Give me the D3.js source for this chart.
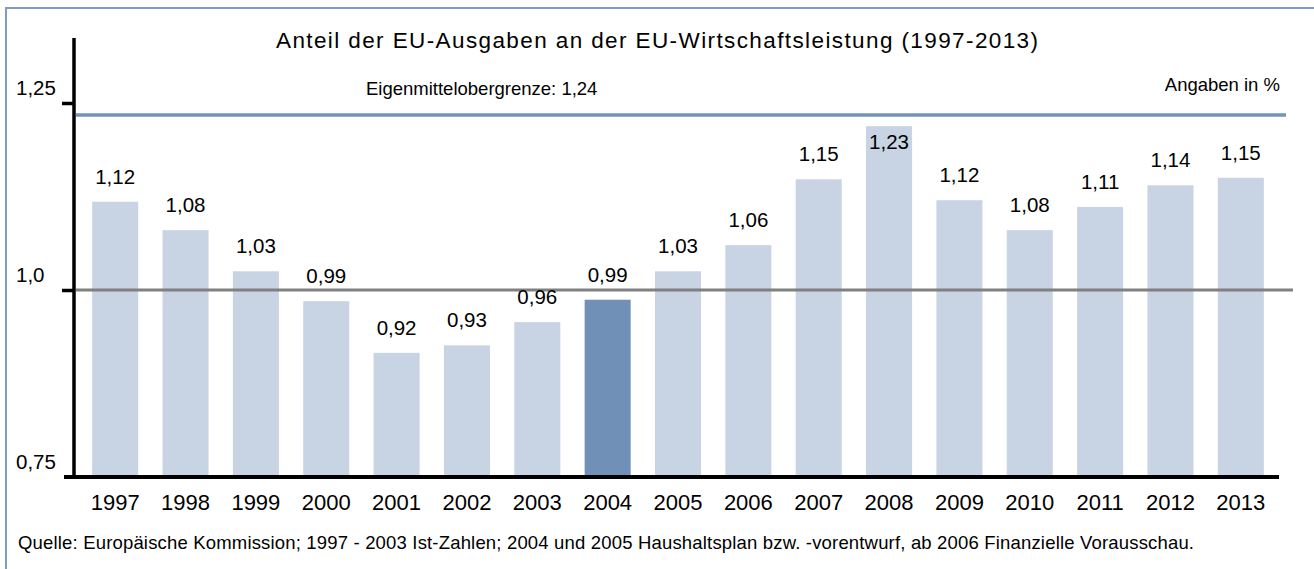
<!DOCTYPE html>
<html>
<head>
<meta charset="utf-8">
<script src="https://cdn.jsdelivr.net/npm/d3@7"></script>
<style>
  body { margin: 0; background: #fff; }
  svg { display: block; font-family: "Liberation Sans", Arial, sans-serif; }
</style>
</head>
<body>
<div id="chart"></div>
<script>
// Data
const years = ["1997", "1998", "1999", "2000", "2001", "2002", "2003", "2004", "2005",
  "2006", "2007", "2008", "2009", "2010", "2011", "2012", "2013"];
const shares = [1.118, 1.080, 1.025, 0.985, 0.916, 0.926, 0.957, 0.987, 1.025,
  1.060, 1.148, 1.219, 1.120, 1.080, 1.111, 1.140, 1.150];
const shareLabels = ["1,12", "1,08", "1,03", "0,99", "0,92", "0,93", "0,96", "0,99", "1,03",
  "1,06", "1,15", "1,23", "1,12", "1,08", "1,11", "1,14", "1,15"];
const highlightYear = "2004";
const yTicks = [0.75, 1.0, 1.25];
const yTickLabels = ["0,75", "1,0", "1,25"];
const ceilingValue = 1.234;
const ceilingLabel = "Eigenmittelobergrenze: 1,24";
const referenceValue = 1.0;

const titleText = "Anteil der EU-Ausgaben an der EU-Wirtschaftsleistung (1997-2013)";
const unitText = "Angaben in %";
const sourceText = "Quelle: Europäische Kommission; 1997 - 2003 Ist-Zahlen; 2004 und 2005 Haushaltsplan bzw. -vorentwurf, ab 2006 Finanzielle Vorausschau.";

const width = 1314;
const height = 569;
const plot = { left: 74, right: 1279, top: 103, bottom: 477 };

const svg = d3.select("#chart")
  .append("svg")
  .attr("width", width)
  .attr("height", height);

const x = d3.scaleBand()
  .domain(years)
  .range([80, 1276])
  .paddingInner(0.346)
  .paddingOuter(0.173);

const y = d3.scaleLinear()
  .domain([0.75, 1.25])
  .range([plot.bottom, plot.top]);

// frame (top and left edges are visible)
svg.append("line")
  .attr("x1", 5).attr("x2", width)
  .attr("y1", 8).attr("y2", 8)
  .attr("stroke", "#7f9cc4").attr("stroke-width", 2);
svg.append("line")
  .attr("x1", 6).attr("x2", 6)
  .attr("y1", 7).attr("y2", height)
  .attr("stroke", "#7f9cc4").attr("stroke-width", 2);

// title
svg.append("text")
  .attr("x", 276)
  .attr("y", 48)
  .attr("font-size", "22.5px")
  .attr("fill", "#000")
  .attr("textLength", 762)
  .attr("lengthAdjust", "spacing")
  .text(titleText);

svg.append("text")
  .attr("x", 1280)
  .attr("y", 91)
  .attr("text-anchor", "end")
  .attr("font-size", "18.5px")
  .text(unitText);

/* ---------- Bars ---------- */
const rows = years.map((yr, i) => ({ year: yr, value: shares[i], label: shareLabels[i] }));

svg.selectAll(".bar")
  .data(rows)
  .enter()
  .append("rect")
  .attr("class", "bar")
  .attr("x", (d) => x(d.year))
  .attr("width", x.bandwidth())
  .attr("y", (d) => y(d.value))
  .attr("height", (d) => y(0.75) - y(d.value))
  .attr("fill", (d) => (d.year === highlightYear ? "#7190b7" : "#c8d3e3"));

// reference line at 1,0
svg.append("line")
  .attr("x1", plot.left + 2)
  .attr("x2", 1293)
  .attr("y1", y(referenceValue))
  .attr("y2", y(referenceValue))
  .attr("stroke", "#808080")
  .attr("stroke-width", 3);

// ceiling line
svg.append("line")
  .attr("x1", plot.left + 2)
  .attr("x2", 1286)
  .attr("y1", y(ceilingValue))
  .attr("y2", y(ceilingValue))
  .attr("stroke", "#7393bb")
  .attr("stroke-width", 3.5);

svg.append("text")
  .attr("x", 366)
  .attr("y", y(ceilingValue) - 20)
  .attr("font-size", "18.5px")
  .text(ceilingLabel);

/* ---------- Value labels ---------- */
svg.selectAll(".value-label")
  .data(rows)
  .enter()
  .append("text")
  .attr("class", "value-label")
  .attr("x", (d) => x(d.year) + x.bandwidth() / 2)
  .attr("y", (d) => {
    const top = y(d.value);
    // labels that would run into the ceiling line go inside the bar
    return top - 40 < y(ceilingValue) ? top + 23 : top - 18;
  })
  .attr("text-anchor", "middle")
  .attr("font-size", "20.5px")
  .text((d) => d.label);

/* ---------- Axes ---------- */
const yAxis = svg.append("g")
  .attr("transform", `translate(${plot.left},0)`)
  .call(d3.axisLeft(y).tickValues(yTicks.slice(1)).tickSize(12).tickFormat(""));
yAxis.select(".domain").remove();
yAxis.selectAll(".tick line").attr("stroke", "#000").attr("stroke-width", 3.5);

svg.append("line")
  .attr("x1", plot.left).attr("x2", plot.left)
  .attr("y1", 38).attr("y2", plot.bottom + 2)
  .attr("stroke", "#000").attr("stroke-width", 3.5);

svg.append("line")
  .attr("x1", 64).attr("x2", plot.right)
  .attr("y1", plot.bottom).attr("y2", plot.bottom)
  .attr("stroke", "#000").attr("stroke-width", 4);

svg.selectAll(".y-label")
  .data(yTicks)
  .enter()
  .append("text")
  .attr("class", "y-label")
  .attr("x", 16)
  .attr("y", (d) => y(d) - 8)
  .attr("font-size", "20.5px")
  .text((d, i) => yTickLabels[i]);

svg.selectAll(".x-label")
  .data(years)
  .enter()
  .append("text")
  .attr("class", "x-label")
  .attr("x", (d) => x(d) + x.bandwidth() / 2)
  .attr("y", 510)
  .attr("text-anchor", "middle")
  .attr("font-size", "22px")
  .text((d) => d);

// source
svg.append("text")
  .attr("x", 18)
  .attr("y", 549)
  .attr("font-size", "18.5px")
  .attr("textLength", 1176)
  .attr("lengthAdjust", "spacing")
  .text(sourceText);
</script>
</body>
</html>
